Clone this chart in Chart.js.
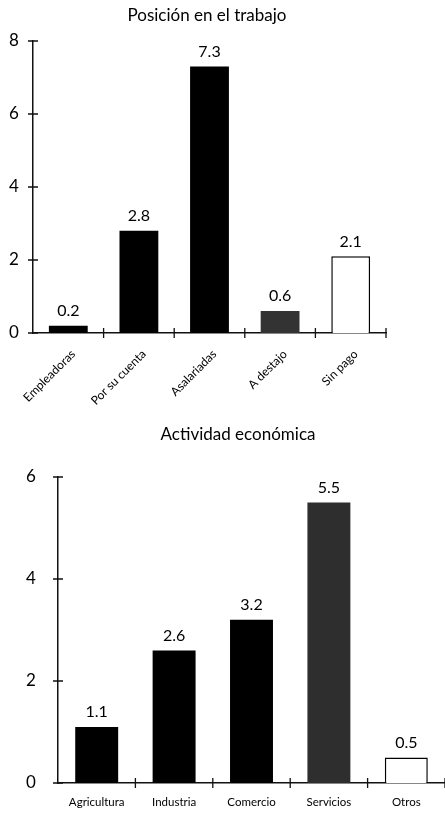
<!DOCTYPE html>
<html>
<head>
<meta charset="utf-8">
<script src="https://cdn.jsdelivr.net/npm/chart.js@4/dist/chart.umd.min.js"></script>
<style>
  body { margin: 0; background: #fff; }
  .box { position: absolute; left: 0; width: 445px; }
</style>
</head>
<body>
<div class="box" style="top:0;height:410px"><canvas id="posChart"></canvas></div>
<div class="box" style="top:410px;height:403px"><canvas id="actChart"></canvas></div>
<script>
// DATA
var posLabels = ['Empleadoras', 'Por su cuenta', 'Asalariadas', 'A destajo', 'Sin pago'];
var posValues = [0.2, 2.8, 7.3, 0.6, 2.1];
var posTicks = [0, 2, 4, 6, 8];

var actLabels = ['Agricultura', 'Industria', 'Comercio', 'Servicios', 'Otros'];
var actValues = [1.1, 2.6, 3.2, 5.5, 0.5];
var actTicks = [0, 2, 4, 6];

var FONT = 'Lato, "Open Sans", sans-serif';
Chart.defaults.font.family = FONT;
Chart.defaults.color = '#000';

// value above each bar
var valueLabels = {
    id: 'valueLabels',
    afterDatasetsDraw: function (chart) {
        var ctx = chart.ctx;
        var meta = chart.getDatasetMeta(0);
        var data = chart.data.datasets[0].data;
        ctx.save();
        ctx.font = '16px ' + FONT;
        ctx.fillStyle = '#000';
        ctx.textAlign = 'center';
        ctx.textBaseline = 'bottom';
        meta.data.forEach(function (bar, i) {
            ctx.fillText(data[i].toFixed(1), bar.x, bar.y - 7);
        });
        ctx.restore();
    }
};

// "+" shaped tick marks crossing the axes
var crossTicks = {
    id: 'crossTicks',
    afterDraw: function (chart) {
        var ctx = chart.ctx;
        var x = chart.scales.x, y = chart.scales.y;
        var area = chart.chartArea;
        ctx.save();
        ctx.strokeStyle = '#111';
        ctx.lineWidth = 1.3;
        ctx.beginPath();
        y.ticks.forEach(function (t) {
            var py = y.getPixelForValue(t.value);
            ctx.moveTo(area.left - 5, py);
            ctx.lineTo(area.left + 5, py);
        });
        var half = (x.getPixelForValue(1) - x.getPixelForValue(0)) / 2;
        for (var i = 1; i <= chart.data.labels.length; i++) {
            var px = x.getPixelForValue(i) - half;
            ctx.moveTo(px, area.bottom - 5);
            ctx.lineTo(px, area.bottom + 5);
        }
        ctx.stroke();
        ctx.restore();
    }
};

function makeChart(id, labels, values, tickVals, colors, cfg) {
    return new Chart(document.getElementById(id), {
        type: 'bar',
        data: {
            labels: labels,
            datasets: [{
                data: values,
                backgroundColor: colors,
                borderColor: '#000',
                borderWidth: colors.map(function (c) { return c === '#fff' ? 1.5 : 0; }),
                borderSkipped: 'bottom',
                barPercentage: cfg.bar,
                categoryPercentage: 1
            }]
        },
        options: {
            responsive: true,
            maintainAspectRatio: false,
            animation: false,
            layout: { padding: cfg.padding },
            plugins: {
                legend: { display: false },
                tooltip: { enabled: false },
                title: {
                    display: true,
                    text: cfg.title,
                    font: { size: 17, weight: 'normal' },
                    color: '#000',
                    padding: cfg.titlePad
                }
            },
            scales: {
                x: {
                    grid: { display: false, drawTicks: false },
                    border: { display: true, color: '#111', width: 1.5 },
                    ticks: {
                        font: { size: cfg.xFont },
                        padding: cfg.xPad,
                        labelOffset: cfg.xShift,
                        minRotation: cfg.rot,
                        maxRotation: cfg.rot,
                        autoSkip: false
                    },
                    afterFit: function (s) { s.height = cfg.xHeight; }
                },
                y: {
                    min: tickVals[0],
                    max: tickVals[tickVals.length - 1],
                    grid: { display: false },
                    border: { display: true, color: '#111', width: 1.5 },
                    ticks: {
                        stepSize: tickVals[1] - tickVals[0],
                        autoSkip: false,
                        font: { size: 17 },
                        // mirrored with a negative padding so the labels sit left of the axis
                        mirror: true,
                        padding: cfg.yPad
                    },
                    afterFit: function (s) { s.width = cfg.yWidth; }
                }
            }
        },
        plugins: [valueLabels, crossTicks]
    });
}

// CHART POSICION
makeChart('posChart', posLabels, posValues, posTicks,
    ['#000', '#000', '#000', '#333', '#fff'], {
        title: 'Posición en el trabajo',
        padding: { left: 28, right: 59, top: 0, bottom: 0 },
        titlePad: { top: 5, bottom: 15.6 },
        bar: 0.55,
        rot: 45,
        xFont: 12,
        xPad: 14,
        xShift: 5,
        xHeight: 77,
        yWidth: 5,
        yPad: -24
    });

// CHART ACTIVIDAD
makeChart('actChart', actLabels, actValues, actTicks,
    ['#000', '#000', '#000', '#2e2e2e', '#fff'], {
        title: 'Actividad económica',
        padding: { left: 31, right: 0, top: 0, bottom: 0 },
        titlePad: { top: 14.8, bottom: 31.8 },
        bar: 0.555,
        rot: 0,
        xFont: 11.5,
        xPad: 12,
        xShift: 0,
        xHeight: 30,
        yWidth: 27,
        yPad: -32
    });
</script>
</body>
</html>
